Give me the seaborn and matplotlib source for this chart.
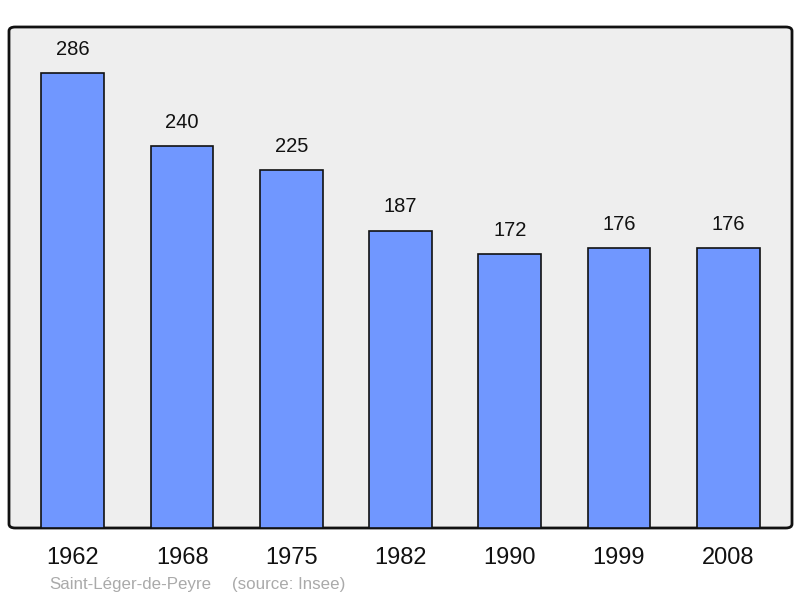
import matplotlib
matplotlib.use('Agg')
import matplotlib.pyplot as plt
import seaborn as sns
import pandas as pd
from matplotlib.patches import FancyBboxPatch

years = ['1962', '1968', '1975', '1982', '1990', '1999', '2008']
population = [286, 240, 225, 187, 172, 176, 176]

df = pd.DataFrame({'year': years, 'pop': population})

sns.set_style('white')
plt.rcParams['font.family'] = ['Liberation Sans', 'DejaVu Sans']

fig = plt.figure(figsize=(8, 5.98), dpi=100)
ax = fig.add_axes([9 / 800, 70 / 598, 783 / 800, 501 / 598])
ax.set_facecolor('none')

# rounded frame with grey background
frame = FancyBboxPatch((0, 0), 1, 1, boxstyle='round,pad=0,rounding_size=0.008',
                       transform=ax.transAxes, facecolor='#eeeeee',
                       edgecolor='#111111', linewidth=2, zorder=0, clip_on=False)
ax.add_patch(frame)

sns.barplot(data=df, x='year', y='pop', color='#7097ff', width=0.575,
            saturation=1, edgecolor='#111111', linewidth=1.2, ax=ax, zorder=2)

for i, v in enumerate(population):
    ax.text(i, v + 9, str(v), ha='center', va='bottom', fontsize=14.5, color='#111111')

ax.set_xlim(-0.585, 6.585)
ax.set_ylim(0, 315)
for s in ax.spines.values():
    s.set_visible(False)
ax.set_yticks([])
ax.set_xlabel('')
ax.set_ylabel('')
ax.tick_params(axis='x', length=0, labelsize=17, pad=14, colors='#111111')

fig.text(49 / 800, 1 - 584 / 598, 'Saint-Léger-de-Peyre', fontsize=12.2,
         color='#aaaaaa', va='center', ha='left')
fig.text(232 / 800, 1 - 584 / 598, '(source: Insee)', fontsize=12.2,
         color='#aaaaaa', va='center', ha='left')

fig.savefig('out.png', dpi=100)
